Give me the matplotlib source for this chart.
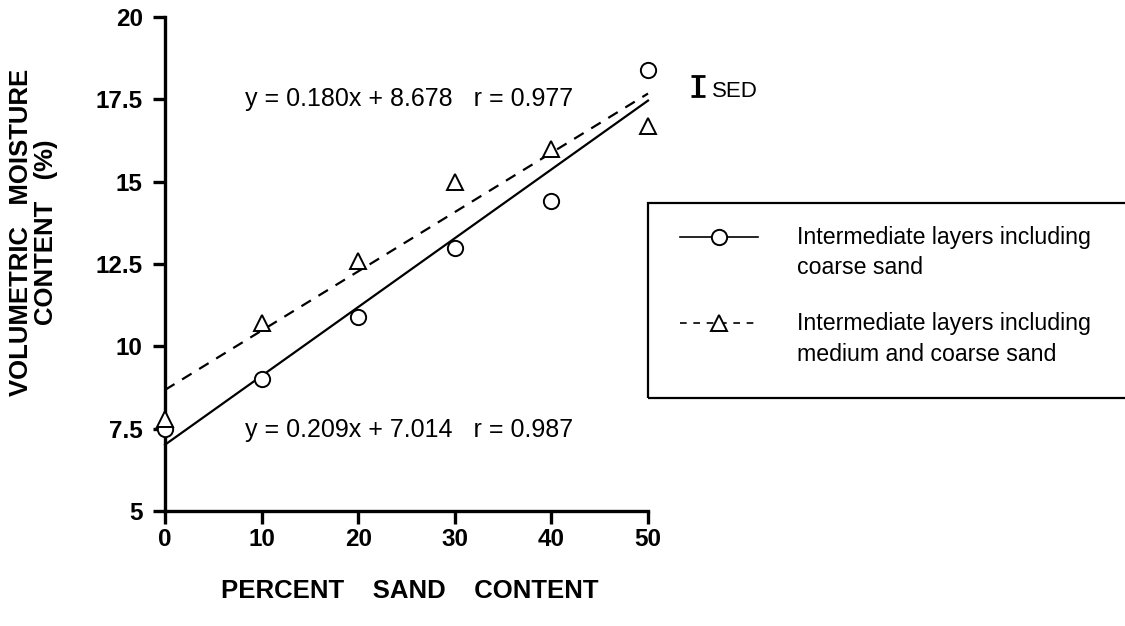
import numpy as np
import matplotlib
matplotlib.use("Agg")
import matplotlib.pyplot as plt
from matplotlib.lines import Line2D
from matplotlib.patches import Rectangle

# data
sand_pct = [0, 10, 20, 30, 40, 50]
coarse = [7.5, 9.0, 10.9, 13.0, 14.4, 18.4]
medium_coarse = [7.8, 10.7, 12.6, 15.0, 16.0, 16.7]

# regression lines printed on the figure (slope, intercept, r)
coarse_fit = (0.209, 7.014, 0.987)
medium_fit = (0.180, 8.678, 0.977)

sed_value = 0.6
x_ticks = [0, 10, 20, 30, 40, 50]
y_ticks = [5, 7.5, 10, 12.5, 15, 17.5, 20]
y_ticklabels = ["5", "7.5", "10", "12.5", "15", "17.5", "20"]

labels = ["Intermediate layers including\ncoarse sand",
          "Intermediate layers including\nmedium and coarse sand"]

plt.rcParams['font.family'] = ['Liberation Sans', 'DejaVu Sans']

fig = plt.figure(figsize=(11.25, 6.26), dpi=100)
ax = fig.add_axes([0.1467, 0.1837, 0.4293, 0.789])

xs = np.array([sand_pct[0], sand_pct[-1]])
ax.plot(xs, coarse_fit[0] * xs + coarse_fit[1], color='black', lw=1.6,
        clip_on=False)
ax.plot(xs, medium_fit[0] * xs + medium_fit[1], color='black', lw=1.6,
        ls=(0, (5, 4)), clip_on=False)

ax.plot(sand_pct, coarse, ls='none', marker='o', ms=11, mfc='white',
        mec='black', mew=1.4, clip_on=False, zorder=3)
ax.plot(sand_pct, medium_coarse, ls='none', marker='^', ms=11, mfc='white',
        mec='black', mew=1.4, clip_on=False, zorder=4)

# equations
ax.text(8.3, 17.5, "y = %.3fx + %.3f   r = %.3f" % medium_fit,
        fontsize=18, va='center', ha='left')
ax.text(8.3, 7.45, "y = %.3fx + %.3f   r = %.3f" % coarse_fit,
        fontsize=18, va='center', ha='left')

# SED bar
ax.errorbar([55.2], [17.9], yerr=sed_value / 2, fmt='none', ecolor='black',
            elinewidth=3, capsize=5, capthick=2, clip_on=False)
ax.text(56.6, 17.75, "SED", fontsize=16, va='center', ha='left')

ax.set_xlim(0, 50)
ax.set_ylim(5, 20)
ax.set_xticks(x_ticks)
ax.set_yticks(y_ticks)
ax.set_yticklabels(y_ticklabels)
for s in ['top', 'right']:
    ax.spines[s].set_visible(False)
for s in ['left', 'bottom']:
    ax.spines[s].set_linewidth(2.4)
ax.tick_params(direction='out', length=9, width=2.4, labelsize=17.5, pad=7)
ax.tick_params(axis='x', pad=3)
for lab in ax.get_xticklabels() + ax.get_yticklabels():
    lab.set_fontweight('bold')

ax.set_xlabel("PERCENT    SAND    CONTENT", fontsize=18.5, fontweight='bold')
ax.xaxis.set_label_coords(0.507, -0.137)
ax.set_ylabel("VOLUMETRIC   MOISTURE\nCONTENT   (%)", fontsize=18.5,
              fontweight='bold', linespacing=1.05)
ax.yaxis.set_label_coords(-0.222, 0.565)

# legend drawn by hand: box running off the right edge
fig.patches.append(Rectangle((0.576, 0.364), 0.45, 0.312,
                             transform=fig.transFigure, fill=False,
                             edgecolor='black', lw=1.6))
entry_y = [0.6214, 0.4840]
styles = [dict(ls='-', marker='o'), dict(ls=(0, (4, 4)), marker='^')]
for lab, yy, st in zip(labels, entry_y, styles):
    fig.add_artist(Line2D([0.6044, 0.6738], [yy, yy], color='black', lw=1.2,
                          ls=st['ls'], transform=fig.transFigure))
    fig.add_artist(Line2D([0.6391], [yy], ls='none', marker=st['marker'],
                          ms=11, mfc='white', mec='black', mew=1.4,
                          transform=fig.transFigure))
    for i, line in enumerate(lab.split("\n")):
        fig.text(0.7084, yy - i * 0.0495, line, fontsize=16.7, va='center',
                 ha='left')

fig.savefig("out.png", dpi=100)
